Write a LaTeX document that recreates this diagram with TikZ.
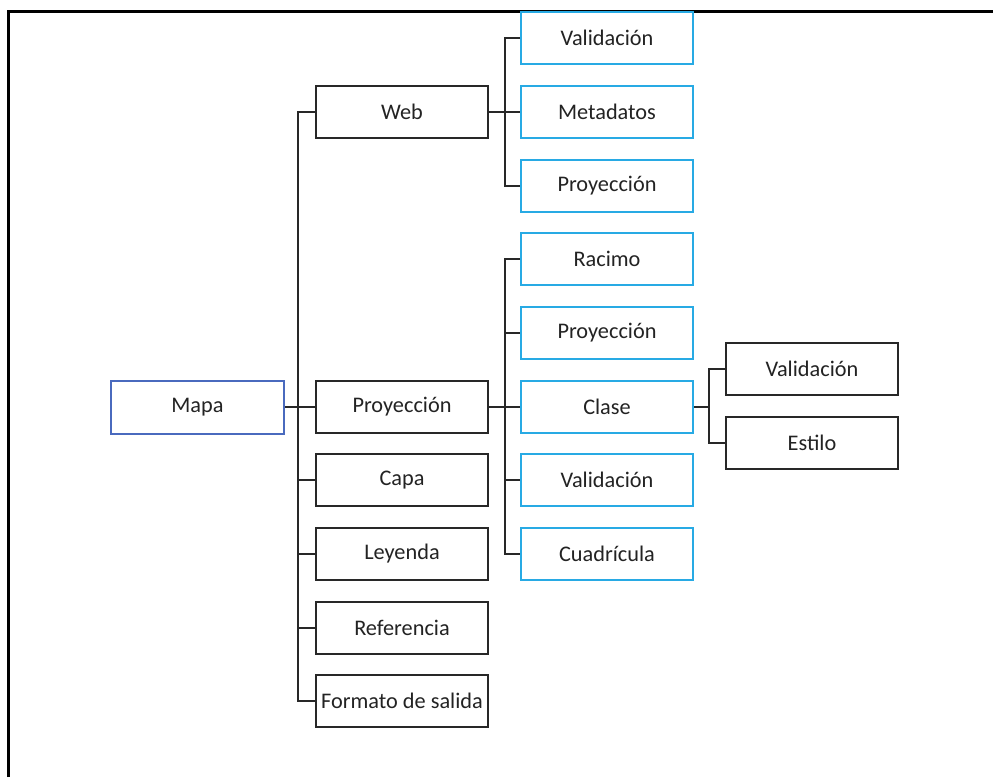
\documentclass[tikz,border=0pt]{standalone}
\usepackage{fontspec}
\setmainfont{Carlito}
\definecolor{rootblue}{RGB}{74,106,190}
\definecolor{cyanbox}{RGB}{40,170,228}
\definecolor{linegray}{RGB}{40,40,40}
\definecolor{textgray}{RGB}{35,35,35}
\begin{document}
\begin{tikzpicture}[x=1pt,y=-1pt,
  box/.style={draw=linegray, line width=2pt, minimum width=172pt, minimum height=52pt, inner sep=0pt, font=\fontsize{22.3}{24}\selectfont, text=textgray, fill=white},
  rootbox/.style={box, draw=rootblue},
  cyanb/.style={box, draw=cyanbox},
  conn/.style={draw=linegray, line width=2pt},
  frame/.style={draw=black, line width=3pt}
]
\useasboundingbox (0,0) rectangle (993,777);
\draw[frame] (8,777) -- (8,11) -- (993,11);

% root
\node[rootbox, minimum width=173pt, minimum height=53pt] (mapa) at (197.5,407) {Mapa};

% level 1
\node[box] (web)  at (402,112) {Web};
\node[box] (proy) at (402,407) {Proyección};
\node[box] (capa) at (402,480) {Capa};
\node[box] (ley)  at (402,554) {Leyenda};
\node[box] (ref)  at (402,628) {Referencia};
\node[box] (fmt)  at (402,701) {Formato de salida};

% level 2 (web)
\node[cyanb] (wval)  at (607,38)  {Validación};
\node[cyanb] (wmeta) at (607,112) {Metadatos};
\node[cyanb] (wproy) at (607,186) {Proyección};

% level 2 (proyeccion)
\node[cyanb] (prac)  at (607,259) {Racimo};
\node[cyanb] (pproy) at (607,333) {Proyección};
\node[cyanb] (pcla)  at (607,407) {Clase};
\node[cyanb] (pval)  at (607,480) {Validación};
\node[cyanb] (pcua)  at (607,554) {Cuadrícula};

% level 3
\node[box] (cval) at (812,369) {Validación};
\node[box] (cest) at (812,443) {Estilo};

% junctions
\coordinate (t1) at (298,407);
\coordinate (w2) at (505,112);
\coordinate (p2) at (505,407);
\coordinate (c3) at (709,407);

% connectors level 1
\draw[conn] (mapa.east) -- (proy.west);
\draw[conn] (web.west) -| (t1) |- (fmt.west);
\draw[conn] (t1) |- (capa.west);
\draw[conn] (t1) |- (ley.west);
\draw[conn] (t1) |- (ref.west);

% connectors web
\draw[conn] (web.east) -- (wmeta.west);
\draw[conn] (wval.west) -| (w2) |- (wproy.west);

% connectors proyeccion
\draw[conn] (proy.east) -- (pcla.west);
\draw[conn] (prac.west) -| (p2) |- (pcua.west);
\draw[conn] (p2) |- (pproy.west);
\draw[conn] (p2) |- (pval.west);

% connectors clase
\draw[conn] (pcla.east) -- (c3);
\draw[conn] (cval.west) -| (c3) |- (cest.west);
\end{tikzpicture}
\end{document}
